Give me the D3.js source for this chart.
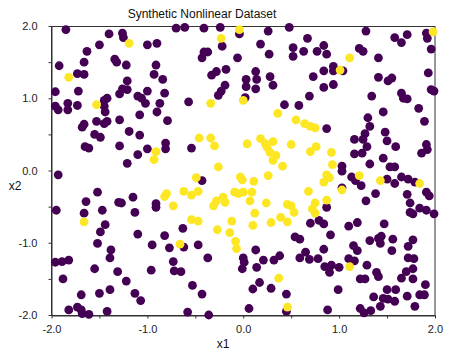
<!DOCTYPE html>
<html>
<head>
<meta charset="utf-8">
<script src="https://cdn.jsdelivr.net/npm/d3@7"></script>
<style>
  html, body { margin: 0; padding: 0; background: #fff; }
  svg text { font-family: "Liberation Sans", Arial, sans-serif; }
</style>
</head>
<body>
<svg id="chart" width="450" height="356"></svg>
<script>
// ---- data (x1, x2) ----
const class0 = [ // purple
[-1.85,1.95],[-1.40,1.89],[-1.26,1.90],[-1.25,1.84],[-1.50,1.74],[-1.00,1.74],[-0.90,1.76],[-1.63,1.65],[-1.66,1.50],[-1.92,1.45],
[-1.34,1.54],[-1.32,1.50],[-1.22,1.46],[-0.91,1.46],[-1.73,1.34],[-1.66,1.33],[-0.93,1.33],[-0.84,1.26],[-1.21,1.24],[-1.96,1.09],
[-1.72,1.10],[-1.26,1.13],[-1.21,1.12],[-1.29,1.06],[-1.10,1.03],[-1.06,1.00],[-1.02,0.93],[-1.00,1.10],[-0.82,1.07],[-1.42,1.00],
[-1.45,0.97],[-1.83,0.93],[-1.73,0.90],[-1.96,0.89],[-1.93,0.84],[-1.83,0.84],[-1.45,0.89],[-1.44,0.81],[-0.87,0.93],[-0.90,0.81],
[-1.08,0.77],[-0.79,0.69],[-1.29,0.70],[-1.53,0.68],[-1.42,0.68],[-1.45,0.65],[-1.66,0.64],[-1.68,0.60],[-1.19,0.54],[-1.55,0.50],
[-1.49,0.46],[-1.08,0.49],[-1.65,0.33],[-1.61,0.31],[-1.29,0.34],[-1.00,0.30],[-0.81,0.38],[-0.81,0.30],[-1.10,0.22],[-1.21,0.10],
[-1.93,-0.06],
[-0.70,1.97],[-0.61,1.98],[-0.41,1.97],[-0.24,1.98],[-0.04,1.89],[0.26,1.93],[0.48,1.98],[-0.22,1.72],[0.18,1.75],[0.52,1.70],
[0.52,1.58],[0.63,1.65],[-0.41,1.64],[-0.37,1.64],[-0.43,1.56],[-0.06,1.56],[0.27,1.61],[-0.18,1.40],[-0.28,1.37],[-0.33,1.32],
[0.13,1.37],[0.03,1.26],[0.14,1.26],[0.28,1.30],[0.31,1.18],[-0.19,1.18],[0.03,1.16],[0.13,1.13],[-0.23,1.10],[-0.26,1.04],
[0.02,1.01],[-0.57,0.95],[0.43,0.91],[0.58,0.90],[-0.54,0.31],
[0.67,1.83],[0.77,1.65],[0.84,1.73],[0.87,1.61],[1.28,1.93],[1.58,1.84],[1.65,1.77],[1.71,1.88],[1.91,1.90],[1.92,1.83],
[1.96,1.68],[1.21,1.69],[1.25,1.65],[1.41,1.56],[0.94,1.44],[0.94,1.38],[1.04,1.38],[0.84,1.38],[0.73,1.30],[0.94,1.19],
[0.84,1.15],[1.41,1.29],[1.51,1.24],[1.55,1.28],[1.93,1.35],[1.96,1.12],[1.99,1.10],[0.69,1.03],[1.34,1.03],[1.65,1.07],
[1.67,1.00],[1.71,0.99],[1.83,0.86],[1.46,0.81],[0.87,0.58],[1.30,0.73],[1.32,0.61],[1.89,0.68],[1.48,0.53],[1.27,0.51],
[1.25,0.43],[1.16,0.43],[1.29,0.33],[1.50,0.41],[1.59,0.33],[1.91,0.36],[1.92,0.29],[1.86,0.24],[1.16,0.23],[1.24,0.24],
[1.46,0.17],[1.32,0.09],[1.03,0.06],[1.03,-0.01],[1.53,0.05],[1.58,0.05],
[-1.95,-0.55],[-1.52,-0.30],[-1.64,-0.43],[-1.66,-0.59],[-1.47,-0.55],[-1.30,-0.44],[-1.27,-0.45],[-1.15,-0.37],[-1.13,-0.58],[-0.91,-0.46],
[-0.91,-0.51],[-1.44,-0.75],[-1.49,-0.85],[-1.10,-0.88],[-1.52,-1.01],[-0.82,-0.90],[-0.95,-1.03],[-0.77,-1.07],[-1.38,-1.10],[-1.39,-1.21],
[-1.96,-1.27],[-1.89,-1.26],[-1.82,-1.24],[-0.73,-1.26],[-0.72,-1.39],[-1.55,-1.36],[-0.96,-1.38],[-1.31,-1.40],[-1.22,-1.53],[-1.88,-1.50],
[-1.39,-1.65],[-1.69,-1.72],[-1.50,-1.70],[-1.13,-1.70],[-1.07,-1.80],[-1.82,-1.93],[-1.73,-1.89],[-1.69,-1.93],[-1.68,-1.98],[-1.61,-1.99],
[-1.42,-1.95],
[-0.43,-0.14],[-0.63,-0.80],[-0.62,-1.06],[-0.47,-1.03],[-0.65,-1.40],[-0.37,-1.21],[0.13,-1.10],[0.00,-1.21],[0.01,-1.27],[-0.01,-1.36],
[0.14,-1.34],[0.21,-1.24],[0.32,-1.24],[0.38,-1.18],[0.54,-0.92],[0.59,-0.95],[0.59,-1.21],[0.65,-1.13],[-0.53,-1.59],
[-0.43,-1.71],[0.17,-1.55],[0.10,-1.64],[0.29,-1.63],[0.45,-1.71],[-0.58,-1.96],[-0.36,-2.00],[0.06,-1.91],[0.45,-1.95],
[1.13,-0.09],[1.17,-0.14],[1.23,-0.21],[1.03,-0.24],[1.50,-0.12],[1.58,-0.18],[1.65,-0.09],[1.72,-0.12],[1.79,-0.16],[1.91,-0.30],
[1.94,-0.35],[1.71,-0.33],[1.38,-0.32],[1.28,-0.42],[0.87,-0.51],[1.74,-0.45],[1.74,-0.58],[1.77,-0.60],[1.84,-0.52],[1.91,-0.55],
[1.99,-0.60],[0.70,-0.73],[0.79,-0.69],[0.84,-0.74],[1.10,-0.77],[1.19,-0.72],[1.47,-0.74],[0.91,-0.89],[1.32,-0.97],[1.41,-0.94],
[1.44,-0.91],[1.43,-1.01],[1.56,-0.95],[1.77,-0.96],[1.72,-1.05],[1.15,-1.04],[1.19,-1.11],[0.84,-1.09],[1.55,-1.11],[0.69,-1.23],
[0.78,-1.22],[1.10,-1.22],[1.16,-1.25],[1.72,-1.21],[1.78,-1.22],[0.85,-1.33],[0.92,-1.31],[0.90,-1.41],[1.00,-1.34],[1.29,-1.31],
[1.77,-1.36],[1.70,-1.40],[1.39,-1.41],[1.41,-1.47],[1.22,-1.50],[1.27,-1.50],[1.65,-1.49],[1.77,-1.50],[1.90,-1.58],[0.99,-1.65],
[1.50,-1.65],[1.59,-1.65],[1.36,-1.75],[1.46,-1.77],[1.51,-1.78],[1.58,-1.81],[1.71,-1.74],[1.84,-1.72],[1.89,-1.72],[1.43,-1.88],
[1.79,-1.88],[0.88,-1.93],[1.22,-1.91],[1.26,-1.97],[1.33,-1.94]
];
const class1 = [ // yellow
[-1.19,1.76],[-1.82,1.29],[-1.53,0.91],[-0.91,0.26],[-0.93,0.15],
[-0.04,1.95],[-0.23,1.83],[0.00,0.97],[-0.34,0.93],[0.36,0.79],[0.55,0.70],[0.64,0.65],[-0.46,0.45],[-0.34,0.45],[-0.30,0.34],
[0.04,0.37],[0.18,0.44],[0.23,0.37],[0.25,0.32],[0.31,0.40],[0.50,0.36],[0.28,0.25],[0.34,0.21],[0.31,0.14],[0.41,0.06],[-0.26,0.05],
[1.98,1.92],[1.11,1.56],[1.01,1.39],[0.70,0.61],[0.75,0.59],[0.76,0.33],[0.70,0.26],[0.92,0.25],[0.93,0.08],
[-1.66,-0.71],[-0.82,-0.36],[-0.80,-0.32],[-0.73,-0.49],
[-0.49,-0.10],[-0.03,-0.09],[-0.01,-0.13],[0.26,-0.07],[0.11,-0.15],[-0.62,-0.29],[-0.54,-0.34],[-0.47,-0.29],[-0.31,-0.49],[-0.28,-0.42],
[-0.21,-0.37],[-0.19,-0.44],[-0.09,-0.30],[-0.05,-0.32],[0.00,-0.30],[0.09,-0.30],[0.07,-0.42],[0.24,-0.45],[0.46,-0.47],[0.50,-0.49],
[0.53,-0.58],[0.12,-0.59],[0.39,-0.65],[0.46,-0.71],[-0.54,-0.68],[-0.47,-0.70],[-0.12,-0.70],[0.10,-0.76],[0.29,-0.72],[-0.27,-0.82],
[-0.14,-0.86],[-0.08,-0.98],[-0.07,-1.08],[-0.66,-1.02],[0.46,-1.89],
[0.87,-0.06],[0.90,-0.10],[0.84,-0.16],[1.21,-0.07],[1.03,-0.27],[1.43,-0.14],[1.84,-0.18],[0.68,-0.29],[0.75,-0.45],[0.72,-0.53],
[0.75,-0.59],[0.87,-0.41],[1.11,-1.33]
];
const class1Hidden = [ // yellow points lying under purple ones
[0.37,-1.49]
];
const classColors = ["#440154", "#fde725"];
const tickValues = [-2, -1.5, -1, -0.5, 0, 0.5, 1, 1.5, 2];
const labeledTicks = [-2, -1, 0, 1, 2];
const titleText = "Synthetic Nonlinear Dataset";
const xLabel = "x1", yLabel = "x2";

(function () {
  const pLeft = 51.5, pRight = 435, pTop = 26, pBottom = 315;
  const svg = d3.select("#chart");
  const x = d3.scaleLinear().domain([-2, 2]).range([pLeft, pRight]);
  const y = d3.scaleLinear().domain([-2, 2]).range([pBottom, pTop]);
  const fmt = d => labeledTicks.includes(d) ? d.toFixed(1) : "";

  svg.append("rect")
    .attr("x", pLeft).attr("y", pTop + 0.5)
    .attr("width", pRight - pLeft).attr("height", pBottom - pTop)
    .attr("fill", "none").attr("stroke", "#333").attr("stroke-width", 1);

  const gx = svg.append("g").attr("transform", `translate(0,${pBottom + 0.5})`)
    .call(d3.axisBottom(x).tickValues(tickValues).tickFormat(fmt).tickSize(3).tickPadding(7).tickSizeOuter(0));
  const gy = svg.append("g").attr("transform", `translate(${pLeft},0)`)
    .call(d3.axisLeft(y).tickValues(tickValues).tickFormat(fmt).tickSize(3).tickPadding(11).tickSizeOuter(0));
  [gx, gy].forEach(g => {
    g.selectAll("path.domain").attr("stroke", "#333");
    g.selectAll(".tick line").attr("stroke", "#333");
    g.selectAll(".tick text").attr("fill", "#222").style("font-size", "11px")
      .style("font-family", '"Liberation Sans", Arial, sans-serif');
  });

  const pts = svg.append("g");
  [[class1Hidden, 1], [class0, 0], [class1, 1]].forEach(([data, ci]) => {
    pts.selectAll(null).data(data).enter().append("circle")
      .attr("cx", d => x(d[0])).attr("cy", d => y(d[1]))
      .attr("r", 4.4).attr("fill", classColors[ci]);
  });

  svg.append("text").attr("x", 202).attr("y", 18).attr("text-anchor", "middle")
    .attr("fill", "#111").style("font-size", "12px").text(titleText);
  svg.append("text").attr("x", 223).attr("y", 348).attr("text-anchor", "middle")
    .attr("fill", "#111").style("font-size", "12px").text(xLabel);
  svg.append("text").attr("x", 15).attr("y", 190).attr("text-anchor", "middle")
    .attr("fill", "#111").style("font-size", "12px").text(yLabel);
})();
</script>
</body>
</html>
